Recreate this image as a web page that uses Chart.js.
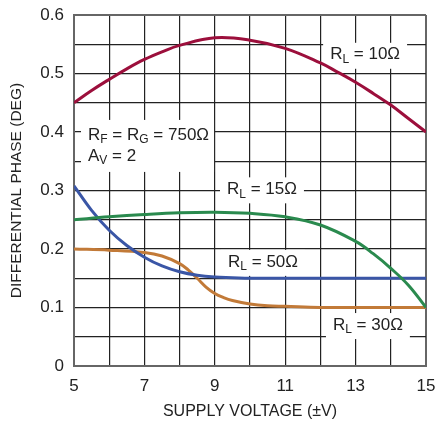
<!DOCTYPE html>
<html lang="en">
<head>
    <meta charset="UTF-8">
    <title>Differential Phase vs Supply Voltage</title>
    <script src="https://cdn.jsdelivr.net/npm/chart.js"></script>
    <style>
        html, body { margin: 0; padding: 0; background: #fff; }
        .chart-box { width: 435px; height: 421px; }
    </style>
</head>
<body>
    <div class="chart-box">
        <canvas id="phaseChart" width="435" height="421"></canvas>
    </div>
    <script>
        // values
        const xRL10 = [5, 5.5, 6, 6.5, 7, 7.5, 8, 9, 10, 11, 12, 12.5, 13, 13.5, 14, 14.5, 15];
        const yRL10 = [0.45, 0.471, 0.49, 0.508, 0.524, 0.537, 0.548, 0.561, 0.557, 0.543, 0.518, 0.502, 0.485, 0.466, 0.446, 0.423, 0.40];

        const xRL15 = [5, 6, 7, 8, 9, 10, 11, 12, 13, 13.5, 14, 14.5, 15];
        const yRL15 = [0.25, 0.255, 0.259, 0.262, 0.263, 0.261, 0.255, 0.241, 0.213, 0.192, 0.167, 0.138, 0.10];

        const xRL50 = [5, 5.5, 6, 6.5, 7, 7.5, 8, 8.5, 9, 9.5, 10, 11, 12, 13, 14, 15];
        const yRL50 = [0.308, 0.266, 0.232, 0.206, 0.186, 0.171, 0.161, 0.155, 0.152, 0.151, 0.15, 0.15, 0.15, 0.15, 0.15, 0.15];

        const xRL30 = [5, 6, 7, 7.5, 8, 8.25, 8.5, 8.75, 9, 9.25, 9.5, 10, 10.5, 11, 12, 13, 14, 15];
        const yRL30 = [0.2, 0.198, 0.194, 0.188, 0.175, 0.164, 0.15, 0.135, 0.124, 0.117, 0.112, 0.106, 0.103, 0.102, 0.1, 0.1, 0.1, 0.1];

        const xTickLabels = [5, 7, 9, 11, 13, 15];
        const yTickLabels = [0, 0.1, 0.2, 0.3, 0.4, 0.5, 0.6];

        // text notes on the plot: [x, y, parts]; each part is [text, isSubscript]
        const notes = [
            [13.27, 0.532, [['R', 0], ['L', 1], [' = 10Ω', 0]]],
            [10.34, 0.302, [['R', 0], ['L', 1], [' = 15Ω', 0]]],
            [10.37, 0.178, [['R', 0], ['L', 1], [' = 50Ω', 0]]],
            [13.35, 0.070, [['R', 0], ['L', 1], [' = 30Ω', 0]]]
        ];
        const condNote = [[['R', 0], ['F', 1], [' = R', 0], ['G', 1], [' = 750Ω', 0]], [['A', 0], ['V', 1], [' = 2', 0]]];

        const FONT = "'Liberation Sans', Arial, sans-serif";

        function pts(xs, ys) {
            return xs.map((x, i) => ({ x: x, y: ys[i] }));
        }

        function lineWidthOf(ctx, parts) {
            let w = 0;
            parts.forEach(p => {
                ctx.font = (p[1] ? '12px ' : '17px ') + FONT;
                w += ctx.measureText(p[0]).width;
            });
            return w;
        }

        function drawParts(ctx, parts, x, y) {
            parts.forEach(p => {
                ctx.font = (p[1] ? '12px ' : '17px ') + FONT;
                ctx.fillText(p[0], x, p[1] ? y + 5 : y);
                x += ctx.measureText(p[0]).width;
            });
        }

        const notesPlugin = {
            id: 'notes',
            beforeDatasetsDraw(chart) {
                const ctx = chart.ctx;
                const xs = chart.scales.x, ys = chart.scales.y;
                ctx.save();
                ctx.textBaseline = 'middle';
                notes.forEach(n => {
                    const cx = xs.getPixelForValue(n[0]);
                    const cy = ys.getPixelForValue(n[1]);
                    const w = lineWidthOf(ctx, n[2]);
                    ctx.fillStyle = '#fff';
                    ctx.fillRect(cx - w / 2 - 7, cy - 12, w + 14, 26);
                    ctx.fillStyle = '#222';
                    drawParts(ctx, n[2], cx - w / 2, cy);
                });
                // circuit conditions
                const left = xs.getPixelForValue(5) + 14;
                const top = ys.getPixelForValue(0.395);
                const w = lineWidthOf(ctx, condNote[0]);
                ctx.fillStyle = '#fff';
                ctx.fillRect(left - 7, top - 15, w + 12, 52);
                ctx.fillStyle = '#222';
                drawParts(ctx, condNote[0], left, top);
                drawParts(ctx, condNote[1], left, top + 21);
                ctx.restore();
            }
        };

        new Chart(document.getElementById('phaseChart'), {
            type: 'line',
            data: {
                datasets: [
                    { label: 'RL = 10Ω', data: pts(xRL10, yRL10), borderColor: '#9c0f3c' },
                    { label: 'RL = 15Ω', data: pts(xRL15, yRL15), borderColor: '#2a8a4e' },
                    { label: 'RL = 50Ω', data: pts(xRL50, yRL50), borderColor: '#3a56a6' },
                    { label: 'RL = 30Ω', data: pts(xRL30, yRL30), borderColor: '#c27a38' }
                ]
            },
            options: {
                responsive: false,
                animation: false,
                layout: { padding: { top: 15, right: 9, left: 0, bottom: 0 } },
                elements: {
                    point: { radius: 0 },
                    line: { borderWidth: 3, tension: 0.4, fill: false }
                },
                plugins: {
                    legend: { display: false },
                    tooltip: { enabled: false }
                },
                scales: {
                    x: {
                        type: 'linear',
                        min: 5,
                        max: 15,
                        afterFit(scale) {
                            scale.height = 55;
                            scale.paddingLeft = 0;
                            scale.paddingRight = 0;
                        },
                        ticks: {
                            stepSize: 1,
                            padding: 10,
                            color: '#222',
                            font: { family: FONT, size: 17 },
                            maxRotation: 0,
                            autoSkip: false,
                            callback: v => xTickLabels.includes(v) ? String(v) : ''
                        },
                        grid: {
                            drawTicks: false,
                            color: ctx => (ctx.index === 0 || ctx.index === 10) ? '#666' : '#222',
                            lineWidth: ctx => (ctx.index === 0 || ctx.index === 10) ? 2 : 1.2
                        },
                        border: { color: '#666', width: 2 },
                        title: {
                            display: true,
                            text: 'SUPPLY VOLTAGE (±V)',
                            color: '#222',
                            font: { family: FONT, size: 16 },
                            padding: { top: 0, bottom: 0 }
                        }
                    },
                    y: {
                        min: 0,
                        max: 0.6,
                        afterFit(scale) {
                            scale.width = 74;
                            scale.paddingTop = 0;
                            scale.paddingBottom = 0;
                        },
                        ticks: {
                            stepSize: 0.05,
                            padding: 10,
                            color: '#222',
                            font: { family: FONT, size: 17 },
                            autoSkip: false,
                            callback: v => {
                                const r = Math.round(v * 100) / 100;
                                if (!yTickLabels.includes(r)) return '';
                                return r === 0 ? '0' : r.toFixed(1);
                            }
                        },
                        grid: {
                            drawTicks: false,
                            color: ctx => (ctx.index === 0 || ctx.index === 12) ? '#666' : '#222',
                            lineWidth: ctx => (ctx.index === 0 || ctx.index === 12) ? 2 : 1.2
                        },
                        border: { color: '#666', width: 2 },
                        title: {
                            display: true,
                            text: 'DIFFERENTIAL PHASE (DEG)',
                            color: '#222',
                            font: { family: FONT, size: 15.5 },
                            padding: { top: 7, bottom: 0 }
                        }
                    }
                }
            },
            plugins: [notesPlugin]
        });
    </script>
</body>
</html>
